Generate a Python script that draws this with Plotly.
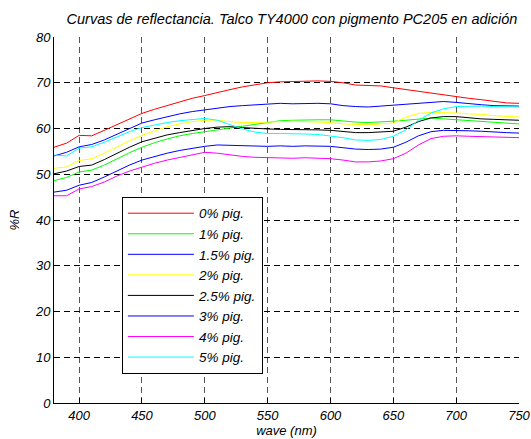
import plotly.graph_objects as go

wave = list(range(380, 751, 10))

labels = ["0% pig.", "1% pig.", "1.5% pig.", "2% pig.", "2.5% pig.", "3% pig.", "4% pig.", "5% pig."]
colors = ["#ff0000", "#00ff00", "#0000ff", "#ffff00", "#000000", "#0000ff", "#ff00ff", "#00ffff"]

r_0 = [55.9, 56.8, 58.5, 58.4, 59.6, 60.8, 62.0, 63.3, 64.2, 65.0, 65.8, 66.6, 67.2, 67.9, 68.5, 69.1,
       69.6, 70.0, 70.2, 70.3, 70.3, 70.4, 70.3, 70.0, 69.5, 69.4, 69.3, 68.9, 68.5, 68.2, 67.8, 67.4,
       67.0, 66.6, 66.3, 65.9, 65.6, 65.5]
r_1 = [48.6, 49.3, 50.5, 50.9, 52.0, 53.4, 54.7, 55.9, 56.9, 57.7, 58.4, 58.9, 59.3, 59.8, 60.2, 60.6,
       61.0, 61.4, 61.7, 61.8, 61.9, 61.9, 61.9, 61.6, 61.4, 61.3, 61.4, 61.6, 61.8, 62.1, 62.3, 62.1,
       61.9, 61.7, 61.5, 61.3, 61.1, 61.0]
r_15 = [54.0, 54.8, 56.0, 56.5, 57.5, 58.7, 60.0, 61.2, 61.9, 62.6, 63.2, 63.7, 64.1, 64.5, 64.8, 65.0,
        65.2, 65.4, 65.5, 65.4, 65.5, 65.5, 65.4, 65.0, 64.8, 64.7, 64.9, 65.1, 65.4, 65.6, 65.8, 65.9,
        65.7, 65.4, 65.2, 65.0, 65.0, 64.9]
r_2 = [51.3, 51.6, 53.0, 53.4, 54.6, 56.0, 57.3, 58.5, 59.5, 60.4, 61.0, 61.5, 61.8, 61.8, 61.5, 61.3,
       61.3, 61.4, 61.5, 61.6, 61.5, 61.4, 61.3, 61.0, 60.9, 60.8, 61.0, 61.2, 62.5, 63.3, 63.5, 63.5,
       63.4, 63.2, 63.1, 62.8, 62.6, 62.5]
r_25 = [50.1, 50.7, 51.7, 52.0, 53.2, 54.6, 55.9, 57.1, 57.9, 58.6, 59.1, 59.6, 60.0, 60.3, 60.4, 60.2,
        60.0, 59.9, 59.8, 59.8, 59.8, 59.7, 59.6, 59.4, 59.1, 59.1, 59.2, 59.4, 60.3, 61.5, 62.3, 62.6,
        62.6, 62.3, 62.1, 62.0, 61.9, 61.8]
r_3 = [46.1, 46.5, 47.6, 48.2, 49.4, 50.7, 52.0, 53.1, 53.9, 54.6, 55.2, 55.7, 56.1, 56.4, 56.3, 56.2,
       56.1, 56.1, 56.2, 56.1, 56.2, 56.2, 56.1, 55.8, 55.5, 55.4, 55.5, 55.9, 57.0, 58.4, 59.3, 59.6,
       59.6, 59.5, 59.4, 59.2, 59.1, 59.0]
r_4 = [45.3, 45.3, 46.8, 47.3, 48.3, 49.6, 50.7, 51.6, 52.4, 53.1, 53.7, 54.3, 54.8, 54.6, 54.2, 53.9,
       53.7, 53.6, 53.5, 53.5, 53.6, 53.5, 53.4, 53.1, 52.7, 52.7, 52.9, 53.4, 54.6, 56.4, 57.8, 58.3,
       58.4, 58.3, 58.2, 58.1, 58.0, 58.0]
r_5 = [54.2, 54.0, 55.7, 56.0, 57.0, 58.2, 59.3, 60.2, 60.8, 61.3, 61.7, 62.0, 62.2, 61.8, 60.8, 59.9,
       59.2, 58.9, 58.9, 58.9, 58.8, 58.7, 58.4, 58.0, 57.5, 57.4, 57.6, 58.3, 59.7, 61.8, 63.4, 64.3,
       64.8, 64.9, 64.9, 64.8, 64.7, 64.7]

series = [r_0, r_1, r_15, r_2, r_25, r_3, r_4, r_5]

x_ticks = [400, 450, 500, 550, 600, 650, 700, 750]
y_ticks = [0, 10, 20, 30, 40, 50, 60, 70, 80]

FONT = "Liberation Sans, Arial, sans-serif"


def txt(size):
    return dict(family=FONT, size=size, color="#000000", style="italic")


fig = go.Figure()
for i, (lab, col, vals) in enumerate(zip(labels, colors, series)):
    fig.add_trace(go.Scatter(x=wave, y=vals, mode="lines", name=lab,
                             line=dict(color=col, width=1), legendgroup=str(i)))

common = dict(showgrid=True, griddash="6px,4px",
              zeroline=False, showline=True, linecolor="#000000", linewidth=1,
              ticks="inside", ticklen=5, tickcolor="#000000",
              tickfont=txt(13), automargin=False)

fig.update_layout(
    width=531, height=439,
    margin=dict(l=54, r=12, t=37, b=36),
    paper_bgcolor="white", plot_bgcolor="white",
    showlegend=True,
    title=dict(text="Curvas de reflectancia. Talco TY4000 con pigmento PC205 en adición",
               x=292 / 531, xanchor="center", y=1 - 19 / 439, yanchor="middle",
               automargin=False, font=txt(14.5)),
    xaxis=dict(range=[380, 750], tickvals=x_ticks, gridcolor="#555555", gridwidth=1.4, **common,
               title=dict(text="wave (nm)", standoff=4, font=txt(13))),
    yaxis=dict(range=[0, 80], tickvals=y_ticks, gridcolor="#000000", gridwidth=1, **common,
               title=dict(text="%R", standoff=12, font=txt(13))),
    legend=dict(x=0.146, y=0.563, xanchor="left", yanchor="top",
                bgcolor="white", bordercolor="#000000", borderwidth=1,
                tracegroupgap=0, itemwidth=66,
                font=txt(13.5)),
)

fig.write_html("out.html", config={"displayModeBar": False},
               post_script="document.body.style.margin='0';")
